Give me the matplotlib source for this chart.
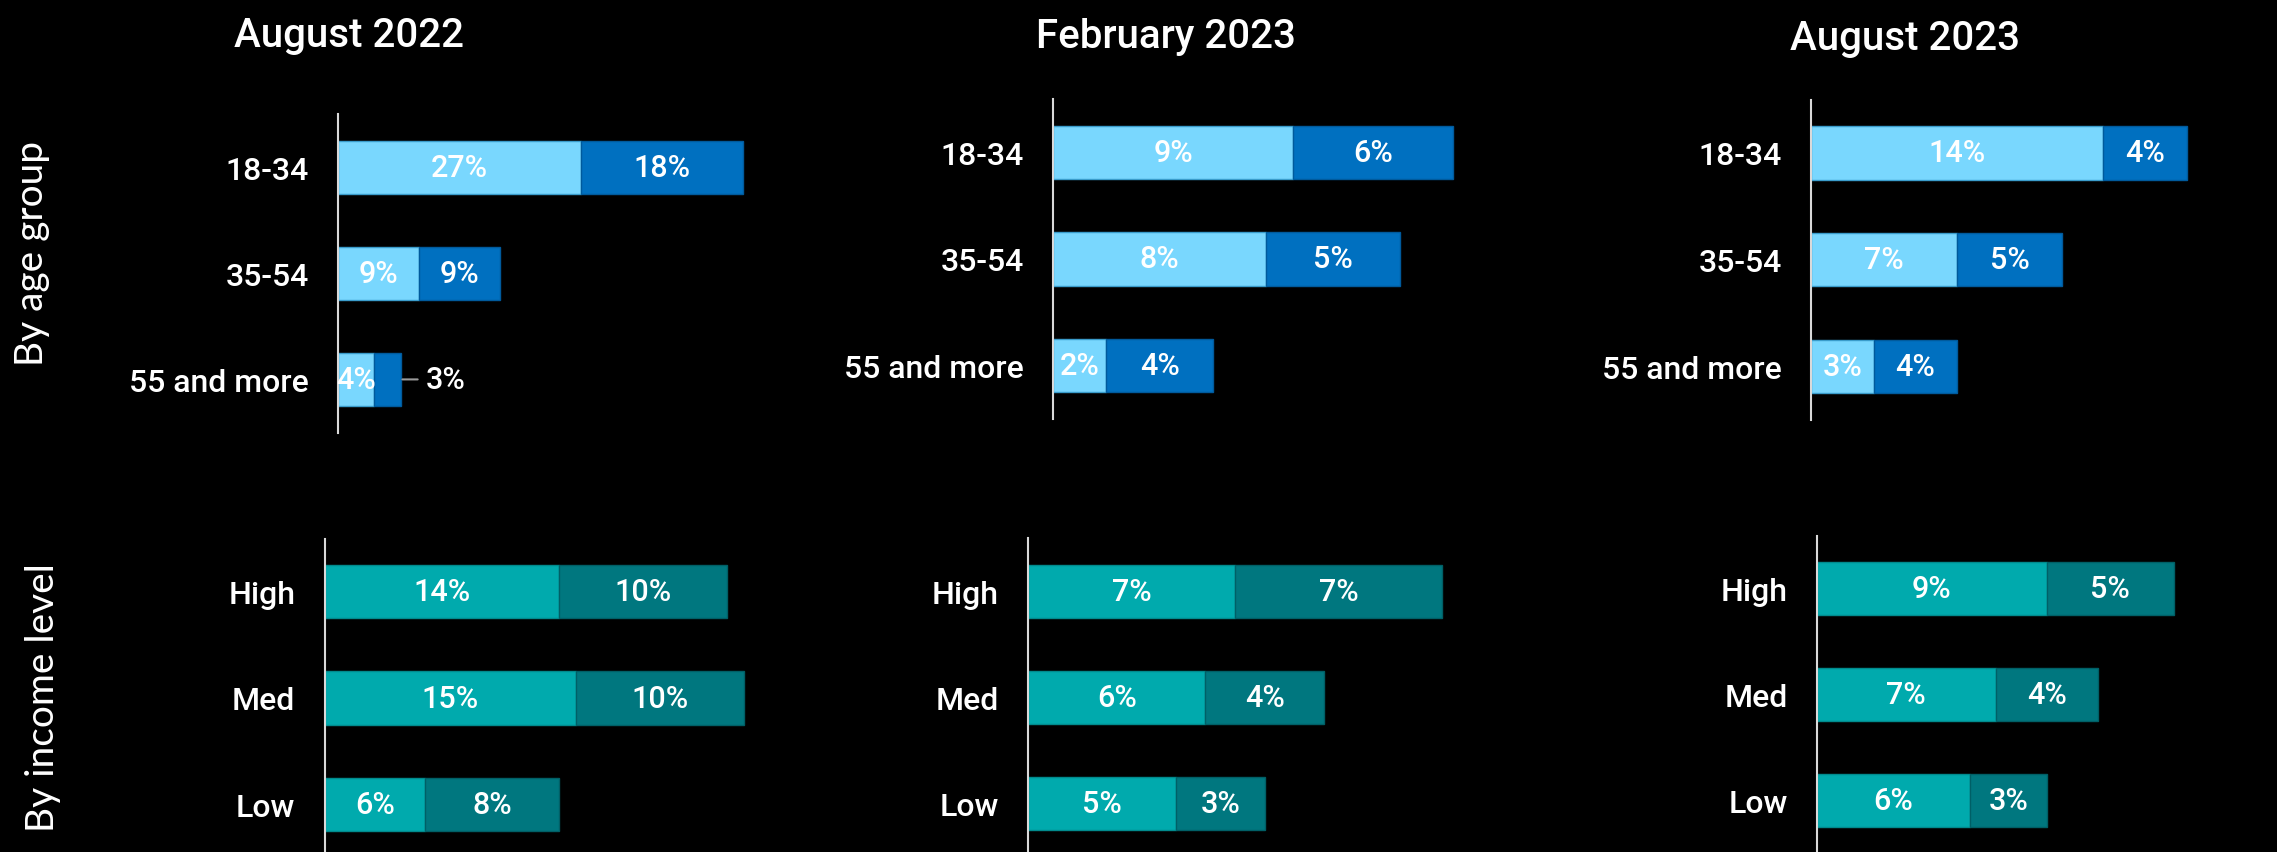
import matplotlib
matplotlib.use("Agg")
import matplotlib.pyplot as plt

# survey waves and groups
periods = ["August 2022", "February 2023", "August 2023"]
age_groups = ["18-34", "35-54", "55 and more"]
income_levels = ["High", "Med", "Low"]

# first / second segment of each stacked bar, one list per wave
age_first = [[27, 9, 4], [9, 8, 2], [14, 7, 3]]
age_second = [[18, 9, 3], [6, 5, 4], [4, 5, 4]]
income_first = [[14, 15, 6], [7, 6, 5], [9, 7, 6]]
income_second = [[10, 10, 8], [7, 4, 3], [5, 4, 3]]

W, H, DPI = 2277, 853, 100
BG = "black"
LABEL_FONT = ["Roboto", "DejaVu Sans"]
SIDE_FONT = ["Lato", "DejaVu Sans"]

AGE_COLORS = ("#79D7FE", "#0070C0")
AGE_EDGES = ("#3A9CCB", "#005A9C")
INC_COLORS = ("#00AAAD", "#00777F")
INC_EDGES = ("#008A8D", "#005F66")

# panel frames in pixels: (left, top, height, px taken by the longest bar)
AGE_FRAMES = [(338, 115, 318.5, 405), (1053, 100, 320, 400), (1811, 100.5, 320, 376)]
INC_FRAMES = [(324.5, 539.5, 319, 419), (1028, 539, 319, 414), (1817, 536.5, 318, 357)]
TITLE_POS = [(349, 47), (1166, 48), (1905, 50)]
AX_W = 450          # axes width in px


def px_axes(fig, left, top, height):
    return fig.add_axes([left / W, 1 - (top + height) / H, AX_W / W, height / H])


def draw_panel(ax, cats, first, second, colors, edges, max_px):
    total_max = max(a + b for a, b in zip(first, second))
    px_per_unit = max_px / total_max
    ys = range(len(cats))
    ax.barh(ys, first, height=0.5, color=colors[0], edgecolor=edges[0], linewidth=1)
    ax.barh(ys, second, left=first, height=0.5, color=colors[1],
            edgecolor=edges[1], linewidth=1)
    txt = dict(color="white", fontsize=22, family=LABEL_FONT, fontweight="medium")
    for y, a, b in zip(ys, first, second):
        ax.text(a / 2, y, f"{a}%", ha="center", va="center", **txt)
        if b * px_per_unit < 28:
            # too narrow for the label: put it outside with a short leader
            ax.annotate(f"{b}%", xy=(a + b, y), xytext=(18, 0),
                        textcoords="offset points", ha="left", va="center",
                        arrowprops=dict(arrowstyle="-", color="#9a9a9a", lw=1.5,
                                        shrinkA=4, shrinkB=1), **txt)
        else:
            ax.text(a + b / 2, y, f"{b}%", ha="center", va="center", **txt)
    ax.set_xlim(0, AX_W / px_per_unit)
    ax.set_ylim(2.5, -0.5)
    ax.set_facecolor(BG)
    for side in ("top", "right", "bottom"):
        ax.spines[side].set_visible(False)
    ax.spines["left"].set_color("#d9d9d9")
    ax.spines["left"].set_linewidth(1.5)
    ax.set_xticks([])
    ax.set_yticks(list(ys))
    ax.set_yticklabels(cats, color="white", fontsize=23, family=LABEL_FONT,
                       fontweight="medium")
    ax.tick_params(axis="y", length=0, pad=21)


fig = plt.figure(figsize=(W / DPI, H / DPI), dpi=DPI, facecolor=BG)

for i, period in enumerate(periods):
    left, top, height, max_px = AGE_FRAMES[i]
    draw_panel(px_axes(fig, left, top, height), age_groups, age_first[i],
               age_second[i], AGE_COLORS, AGE_EDGES, max_px)
    left, top, height, max_px = INC_FRAMES[i]
    draw_panel(px_axes(fig, left, top, height), income_levels, income_first[i],
               income_second[i], INC_COLORS, INC_EDGES, max_px)
    tx, ty = TITLE_POS[i]
    fig.text(tx / W, 1 - ty / H, period, ha="center", va="baseline", color="white",
             fontsize=29, family=LABEL_FONT, fontweight="medium")

fig.text(32 / W, 1 - 254 / H, "By age group", rotation=90, ha="center", va="center",
         color="white", fontsize=28, family=SIDE_FONT)
fig.text(43 / W, 1 - 698 / H, "By income level", rotation=90, ha="center", va="center",
         color="white", fontsize=28, family=SIDE_FONT)

fig.savefig("out.png", dpi=DPI, facecolor=BG)
